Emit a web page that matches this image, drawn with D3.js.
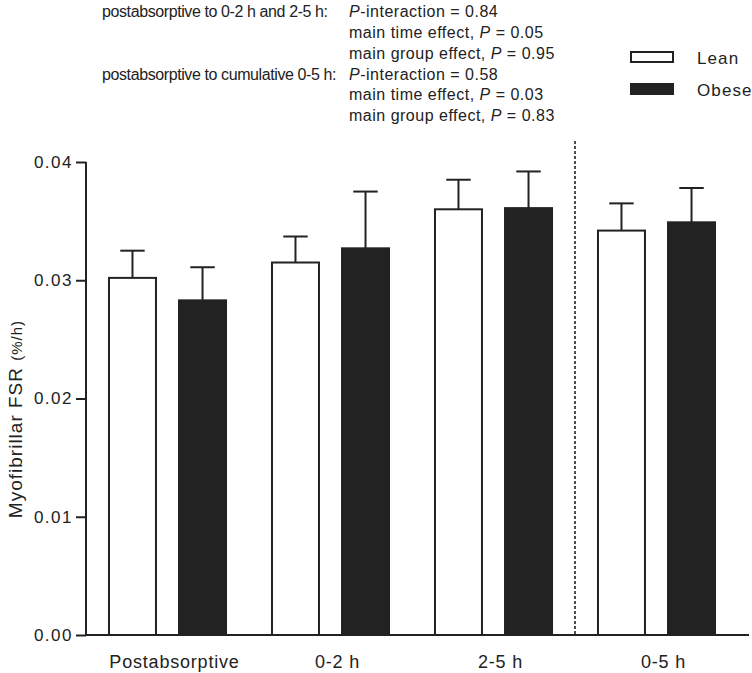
<!DOCTYPE html>
<html><head><meta charset="utf-8">
<script src="https://cdn.jsdelivr.net/npm/d3@7"></script>
<style>body{margin:0;background:#fff}svg{display:block}text{font-family:"Liberation Sans",Arial,sans-serif}</style>
</head><body>
<script>
const categories = ["Postabsorptive", "0-2 h", "2-5 h", "0-5 h"];
const seriesNames = ["Lean", "Obese"];
const leanMean = [0.0302, 0.0315, 0.0360, 0.0342];
const leanErr  = [0.0023, 0.0022, 0.0025, 0.0023];
const obeseMean = [0.0283, 0.0327, 0.0361, 0.0349];
const obeseErr  = [0.0028, 0.0048, 0.0031, 0.0029];
const yTicks = [0, 0.01, 0.02, 0.03, 0.04];
const statsLeft = ["postabsorptive to 0-2 h and 2-5 h:", "", "", "postabsorptive to cumulative 0-5 h:", "", ""];
const statsRight = [["P", "-interaction = 0.84"], ["main time effect, ", "P", " = 0.05"], ["main group effect, ", "P", " = 0.95"],
                    ["P", "-interaction = 0.58"], ["main time effect, ", "P", " = 0.03"], ["main group effect, ", "P", " = 0.83"]];

const W = 752, H = 673;
const svg = d3.select("body").append("svg").attr("width", W).attr("height", H);
const ink = "#222";

const y = d3.scaleLinear().domain([0, 0.04]).range([635, 162]);
const x0 = d3.scaleBand().domain(categories).range([86, 738]).paddingInner(0.282).paddingOuter(0.141);
const x1 = d3.scaleBand().domain(seriesNames).range([0, x0.bandwidth()]).paddingInner(0.329).paddingOuter(0);
const fills = {Lean: "#ffffff", Obese: "#222222"};

const rows = [];
categories.forEach((c, i) => {
  rows.push({c, s: "Lean", v: leanMean[i], e: leanErr[i]});
  rows.push({c, s: "Obese", v: obeseMean[i], e: obeseErr[i]});
});

// error bars (drawn first, bars cover the lower part)
const eb = svg.append("g").attr("stroke", ink).attr("stroke-width", 2);
rows.forEach(d => {
  const cx = x0(d.c) + x1(d.s) + x1.bandwidth() / 2;
  const cw = x1.bandwidth() * 0.52;
  eb.append("line").attr("x1", cx).attr("x2", cx).attr("y1", y(d.v)).attr("y2", y(d.v + d.e));
  eb.append("line").attr("x1", cx - cw / 2).attr("x2", cx + cw / 2).attr("y1", y(d.v + d.e)).attr("y2", y(d.v + d.e));
});

// bars
svg.append("g").selectAll("rect").data(rows).join("rect")
  .attr("x", d => x0(d.c) + x1(d.s))
  .attr("width", x1.bandwidth())
  .attr("y", d => y(d.v))
  .attr("height", d => y(0) - y(d.v))
  .attr("fill", d => fills[d.s])
  .attr("stroke", ink).attr("stroke-width", 2);

// dashed separator between 2-5 h and 0-5 h
const sepX = (x0("2-5 h") + x0.bandwidth() + x0("0-5 h")) / 2;
svg.append("line").attr("x1", sepX).attr("x2", sepX).attr("y1", 141).attr("y2", y(0))
  .attr("stroke", ink).attr("stroke-width", 1.6).attr("stroke-dasharray", "3,2");

// y axis
const yAxis = svg.append("g").attr("transform", "translate(86,0)")
  .call(d3.axisLeft(y).tickValues(yTicks).tickFormat(d3.format(".2f")).tickSize(10).tickPadding(3));
yAxis.select(".domain").attr("stroke", ink).attr("stroke-width", 2).attr("d", `M0,${y(0.04)}V${y(0)}`);
yAxis.selectAll(".tick line").attr("stroke", ink).attr("stroke-width", 2);
yAxis.selectAll(".tick text").attr("font-size", 17).attr("fill", ink)
  .attr("font-family", '"Liberation Sans",Arial,sans-serif').style("letter-spacing", "1.5px");

// x axis baseline
svg.append("line").attr("x1", 86).attr("x2", 749).attr("y1", y(0)).attr("y2", y(0))
  .attr("stroke", ink).attr("stroke-width", 2);
svg.append("g").selectAll("text").data(categories).join("text")
  .attr("x", d => x0(d) + x0.bandwidth() / 2 + 7)
  .attr("y", 668)
  .attr("text-anchor", "middle").attr("font-size", 18).attr("fill", ink)
  .style("letter-spacing", "0.8px")
  .text(d => d);

// y title
const yt = svg.append("text").attr("transform", "translate(22,419) rotate(-90)")
  .attr("text-anchor", "middle").attr("font-size", 19).attr("fill", ink).style("letter-spacing", "1px");
yt.append("tspan").text("Myofibrillar FSR ");
yt.append("tspan").attr("font-size", 15).text("(%/h)");

// legend
const lg = svg.append("g");
seriesNames.forEach((s, i) => {
  const ly = 52 + i * 32;
  lg.append("rect").attr("x", 631).attr("y", ly).attr("width", 42).attr("height", 10)
    .attr("fill", fills[s]).attr("stroke", ink).attr("stroke-width", 2);
  lg.append("text").attr("x", 697).attr("y", ly + 12).attr("font-size", 17).attr("fill", ink)
    .style("letter-spacing", "1.1px").text(s);
});

// stats text
const st = svg.append("g").attr("font-size", 16).attr("fill", ink);
const lineY = [17, 38, 59, 80, 100, 121];
statsLeft.forEach((t, i) => {
  if (t) st.append("text").attr("x", 102).attr("y", lineY[i]).style("letter-spacing", "-0.4px").text(t);
});
statsRight.forEach((parts, i) => {
  const t = st.append("text").attr("x", 349).attr("y", lineY[i]).style("letter-spacing", "0.5px");
  parts.forEach(p => {
    const sp = t.append("tspan").text(p);
    if (p === "P") sp.attr("font-style", "italic");
  });
});
</script>
</body></html>
